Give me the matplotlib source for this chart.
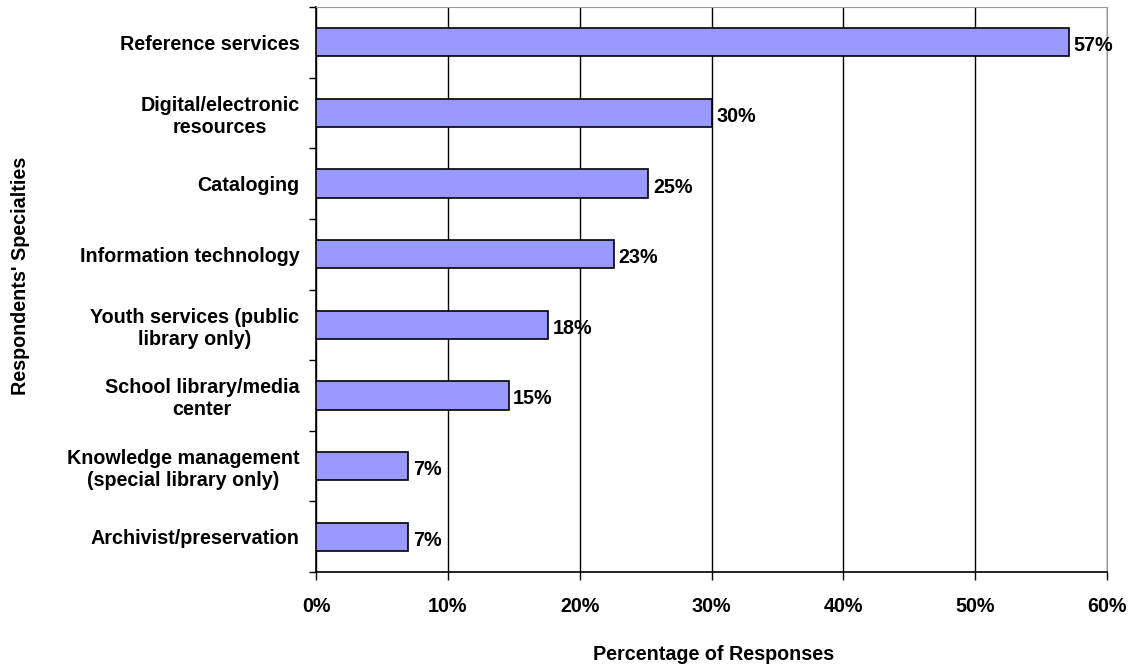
import matplotlib
matplotlib.use("Agg")
import matplotlib.pyplot as plt
from matplotlib.ticker import MultipleLocator, FuncFormatter

# categories listed top to bottom
specialties = [
    "Reference services",
    "Digital/electronic\nresources",
    "Cataloging",
    "Information technology",
    "Youth services (public\nlibrary only)",
    "School library/media\ncenter",
    "Knowledge management\n(special library only)",
    "Archivist/preservation",
]
percent = [57.1, 30.0, 25.2, 22.6, 17.6, 14.6, 7.0, 7.0]
labels = ["57%", "30%", "25%", "23%", "18%", "15%", "7%", "7%"]

FS = 14.2
plt.rcParams['font.family'] = ['Liberation Sans', 'DejaVu Sans']
plt.rcParams['font.weight'] = 'bold'

fig = plt.figure(figsize=(11.32, 6.68), dpi=100)
ax = fig.add_axes([0.2792, 0.1437, 0.6988, 0.8458])

n = len(specialties)
ypos = list(range(n))
ax.barh(ypos, percent, height=0.4, color="#9999FF", edgecolor="black", linewidth=1.2, zorder=3)
for y, v, t in zip(ypos, percent, labels):
    ax.text(v + 0.35, y + 0.05, t, va="center", ha="left", fontsize=FS, fontweight="bold", zorder=4)

ax.set_xlim(0, 60)
ax.set_ylim(n - 0.5, -0.5)
ax.xaxis.set_major_locator(MultipleLocator(10))
ax.xaxis.set_major_formatter(FuncFormatter(lambda v, p: "%d%%" % v))
ax.grid(axis="x", color="black", linewidth=1.0, zorder=0)

# category labels centered on bars, tick marks at category boundaries
ax.set_yticks([i - 0.5 for i in range(n + 1)])
ax.set_yticklabels([])
ax.set_yticks(ypos, minor=True)
ax.set_yticklabels(specialties, minor=True, fontsize=FS, fontweight="bold",
                   ha="right", multialignment="center")
ax.tick_params(axis="y", which="minor", length=0, pad=12)
ax.tick_params(axis="y", which="major", length=5, width=1.0, direction="out")
ax.tick_params(axis="x", length=6, width=1.0, direction="out", pad=12, labelsize=FS)
for lab in ax.get_xticklabels():
    lab.set_fontweight("bold")

for side in ["top", "right"]:
    ax.spines[side].set_color("#999999")
for side in ["left", "bottom"]:
    ax.spines[side].set_color("black")
    ax.spines[side].set_linewidth(1.2)

fig.text(0.630, 0.020, "Percentage of Responses", va="center", ha="center",
         fontsize=FS, fontweight="bold")
fig.text(0.0177, 0.587, "Respondents' Specialties", rotation=90, va="center", ha="center",
         fontsize=FS, fontweight="bold")

fig.savefig("out.png", dpi=100)
